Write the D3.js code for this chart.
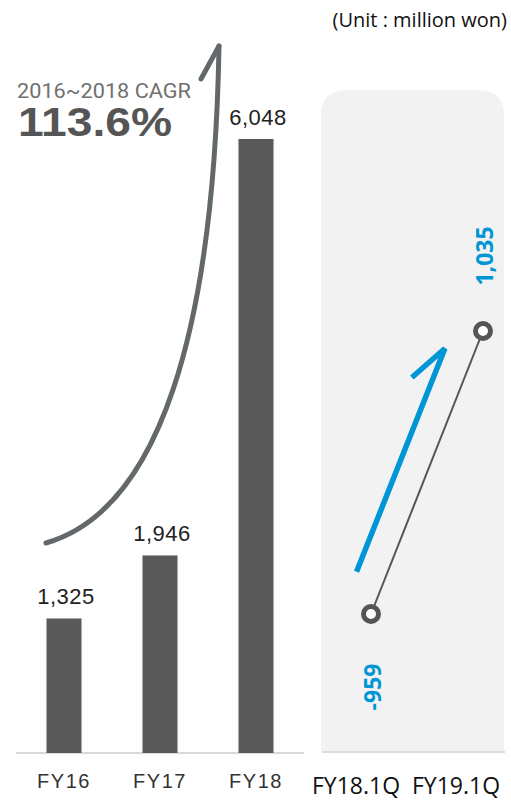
<!DOCTYPE html>
<html>
<head>
<meta charset="utf-8">
<script src="https://cdn.jsdelivr.net/npm/d3@7"></script>
<style>
  html, body { margin: 0; padding: 0; background: #fff; }
  svg { display: block; }
</style>
</head>
<body>
<svg id="chart" width="511" height="801"></svg>
<script>
// Annual revenue (bars)
const yearCats = ["FY16", "FY17", "FY18"];
const yearVals = [1325, 1946, 6048];
const yearLabels = ["1,325", "1,946", "6,048"];

// Quarterly operating result (line)
const qCats = ["FY18.1Q", "FY19.1Q"];
const qVals = [-959, 1035];
const qLabels = ["-959", "1,035"];

const cagrTitle = "2016~2018 CAGR";
const cagrValue = "113.6%";
const unitText = "(Unit : million won)";

const svg = d3.select("#chart");

// ---------- left panel: bars ----------
const baseY = 753;
const x = d3.scalePoint().domain(yearCats).range([16, 304]).padding(0.5);
const y = d3.scaleLinear().domain([0, d3.max(yearVals)]).range([baseY, 139]);
const barW = 35;

svg.append("line")
  .attr("x1", 16).attr("x2", 304)
  .attr("y1", baseY).attr("y2", baseY)
  .attr("stroke", "#dadada").attr("stroke-width", 2);

svg.append("g").selectAll("rect")
  .data(yearVals)
  .join("rect")
  .attr("x", (d, i) => x(yearCats[i]) - barW / 2)
  .attr("y", d => y(d))
  .attr("width", barW)
  .attr("height", d => baseY - y(d))
  .attr("fill", "#595959");

svg.append("g").selectAll("text")
  .data(yearVals)
  .join("text")
  .attr("x", (d, i) => x(yearCats[i]) + 2)
  .attr("y", d => y(d) - 14)
  .attr("text-anchor", "middle")
  .attr("font-family", "'Liberation Sans', Arial, sans-serif")
  .attr("font-size", 22)
  .attr("letter-spacing", 0.5)
  .attr("fill", "#222")
  .text((d, i) => yearLabels[i]);

// x-axis labels (left)
svg.append("g").selectAll("text")
  .data(yearCats)
  .join("text")
  .attr("x", d => x(d))
  .attr("y", 788)
  .attr("text-anchor", "middle")
  .attr("font-family", "'Liberation Sans', Arial, sans-serif")
  .attr("font-size", 20)
  .attr("letter-spacing", 1.5)
  .attr("fill", "#333")
  .text(d => d);

// growth curve (single cubic) with arrow hook at the tip
const cStart = [46, 543], cC1 = [160, 510], cC2 = [214, 330], cEnd = [219, 46];
const curvePath = d3.path();
curvePath.moveTo(...cStart);
curvePath.bezierCurveTo(...cC1, ...cC2, ...cEnd);
svg.append("path")
  .attr("d", curvePath.toString())
  .attr("fill", "none")
  .attr("stroke", "#63686b")
  .attr("stroke-width", 5)
  .attr("stroke-linecap", "round");
svg.append("path")
  .attr("d", d3.line()([cEnd, [201, 79]]))
  .attr("fill", "none")
  .attr("stroke", "#63686b")
  .attr("stroke-width", 5)
  .attr("stroke-linecap", "round");

// CAGR text
svg.append("text")
  .attr("x", 17).attr("y", 98)
  .attr("font-family", "'Liberation Sans Narrow', 'Roboto', sans-serif")
  .attr("font-size", 21)
  .attr("textLength", 174)
  .attr("lengthAdjust", "spacingAndGlyphs")
  .attr("fill", "#707070")
  .text(cagrTitle);
svg.append("text")
  .attr("x", 18).attr("y", 136)
  .attr("font-family", "'Liberation Sans', Arial, sans-serif")
  .attr("font-weight", "bold")
  .attr("font-size", 40)
  .attr("textLength", 154)
  .attr("lengthAdjust", "spacingAndGlyphs")
  .attr("fill", "#555")
  .text(cagrValue);

// unit note
svg.append("text")
  .attr("x", 507).attr("y", 27)
  .attr("text-anchor", "end")
  .attr("font-family", "'Open Sans', sans-serif")
  .attr("font-size", 20)
  .attr("fill", "#111")
  .text(unitText);

// ---------- right panel: quarterly line ----------
const px0 = 321, px1 = 504, pTop = 90, pBot = 752, rad = 26;
svg.append("path")
  .attr("d", `M${px0},${pBot} V${pTop + rad} Q${px0},${pTop} ${px0 + rad},${pTop} H${px1 - rad} Q${px1},${pTop} ${px1},${pTop + rad} V${pBot} Z`)
  .attr("fill", "#f2f2f2");
svg.append("line")
  .attr("x1", px0 + 1).attr("x2", px1 + 1)
  .attr("y1", pBot).attr("y2", pBot)
  .attr("stroke", "#dcdcdc").attr("stroke-width", 2);

const xq = d3.scalePoint().domain(qCats).range([371, 483]);
const yq = d3.scaleLinear().domain(d3.extent(qVals)).range([614, 331]);
const xqLab = d3.scalePoint().domain(qCats).range([306, 506]).padding(0.5);

// blue trend arrow, parallel to the line and offset to its left
const pA = [xq(qCats[0]), yq(qVals[0])];
const pB = [xq(qCats[1]), yq(qVals[1])];
const len = Math.hypot(pB[0] - pA[0], pB[1] - pA[1]);
const ux = (pB[0] - pA[0]) / len, uy = (pB[1] - pA[1]) / len;
const nx = uy, ny = -ux; // left-hand normal
const off = 29;
const at = s => [pA[0] + ux * s + nx * off, pA[1] + uy * s + ny * off];
const a0 = at(34), a1 = at(274);
const hook = [a1[0] - 33, a1[1] + 29];
svg.append("path")
  .attr("d", d3.line()([a0, a1, hook]))
  .attr("fill", "none")
  .attr("stroke", "#0096d6")
  .attr("stroke-width", 5.5)
  .attr("stroke-linejoin", "miter")
  .attr("stroke-linecap", "butt");

svg.append("path")
  .datum(qVals)
  .attr("d", d3.line().x((d, i) => xq(qCats[i])).y(d => yq(d)))
  .attr("fill", "none")
  .attr("stroke", "#555")
  .attr("stroke-width", 2);

svg.append("g").selectAll("circle")
  .data(qVals)
  .join("circle")
  .attr("cx", (d, i) => xq(qCats[i]))
  .attr("cy", d => yq(d))
  .attr("r", 7.5)
  .attr("fill", "#fff")
  .attr("stroke", "#555")
  .attr("stroke-width", 5);

// rotated value labels: above the high point, below the low point
svg.append("g").selectAll("text")
  .data(qVals)
  .join("text")
  .attr("transform", (d, i) => {
    const cx = xq(qCats[i]) + 10;
    const cy = d < 0 ? yq(d) + 73 : yq(d) - 75;
    return `translate(${cx},${cy}) rotate(-90)`;
  })
  .attr("text-anchor", "middle")
  .attr("font-family", "'Open Sans', sans-serif")
  .attr("font-weight", "bold")
  .attr("font-size", 23)
  .attr("fill", "#0096d6")
  .text((d, i) => qLabels[i]);

// x-axis labels (right)
svg.append("g").selectAll("text")
  .data(qCats)
  .join("text")
  .attr("x", d => xqLab(d))
  .attr("y", 794)
  .attr("text-anchor", "middle")
  .attr("font-family", "'Open Sans', sans-serif")
  .attr("font-size", 23)
  .attr("fill", "#111")
  .text(d => d);
</script>
</body>
</html>
